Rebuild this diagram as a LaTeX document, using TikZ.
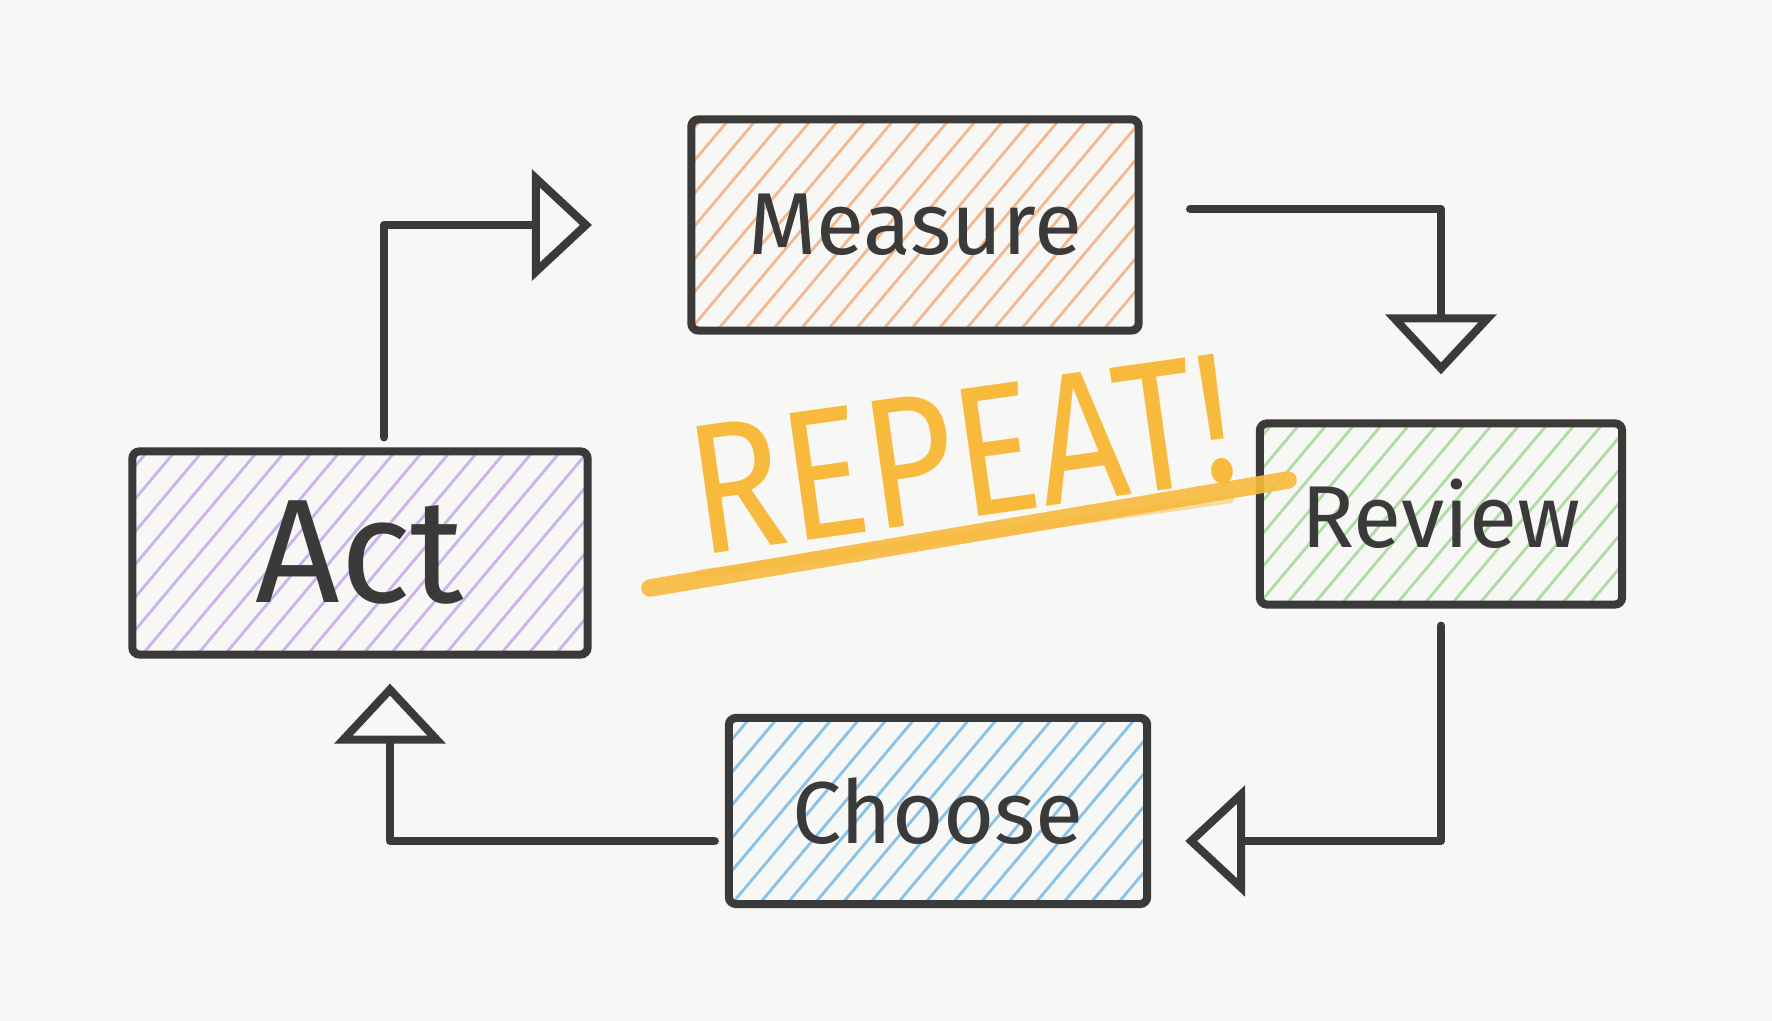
\documentclass[tikz,border=0pt]{standalone}
\usepackage{fontspec}
\setmainfont{Fira Sans}
\usetikzlibrary{arrows.meta,patterns.meta,calc}

\definecolor{paper}{HTML}{F7F7F5}
\definecolor{pencil}{HTML}{3A3A3A}
\definecolor{measurehatch}{HTML}{F5B88E}
\definecolor{acthatch}{HTML}{CDB2EC}
\definecolor{reviewhatch}{HTML}{AEDCA2}
\definecolor{choosehatch}{HTML}{86C2EA}
\definecolor{repeatcol}{HTML}{F8BA3C}

\tikzset{
  stage/.style={draw=pencil, line width=2.3pt, rounded corners=2pt,
    pattern={Lines[angle=50,distance=6pt,line width=0.8pt]}, pattern color=#1,
    text=pencil, font=\fontsize{25}{30}\selectfont},
  flow/.style={draw=pencil, line width=2.3pt, line cap=round, line join=round,
    -{Triangle[open,length=6mm,width=11mm]}}
}

\begin{document}
\begin{tikzpicture}[x=0.01cm,y=0.01cm]
      % Papel
      \fill[paper] (0,0) rectangle (1772,1021);
      \useasboundingbox (0,0) rectangle (1772,1021);

      % Caixas
      \node[stage=measurehatch, minimum width=4.47cm, minimum height=2.11cm] (measure) at (915,796) {Measure};
      \node[stage=reviewhatch, minimum width=3.62cm, minimum height=1.81cm] (review) at (1441,507) {Review};
      \node[stage=choosehatch, minimum width=4.18cm, minimum height=1.86cm] (choose) at (938,210) {Choose};
      \node[stage=acthatch, minimum width=4.55cm, minimum height=2.03cm, font=\fontsize{42}{48}\selectfont] (act) at (360,468) {Act};

      % Setas
      \draw[flow, shorten <=0.1cm, shorten >=0.98cm] ($(act.north)+(24,0)$) |- (measure.west);
      \draw[flow, shorten <=0.5cm, shorten >=0.45cm] ($(measure.east)+(0,16)$) -| (review.north);
      \draw[flow, shorten <=0.17cm, shorten >=0.34cm] (review.south) |- ($(choose.east)+(0,-30)$);
      \draw[flow, shorten <=0.1cm, shorten >=0.25cm] ($(choose.west)+(0,-30)$) -| ($(act.south)+(30,0)$);

      % Texto central
      \node[text=repeatcol, rotate=8, font=\fontsize{44}{50}\selectfont] (repeat) at (962,566) {\scalebox{1}[1.2]{REPEAT!}};
      \draw[repeatcol, line width=5pt, line cap=round, opacity=0.9] (650,433) -- (1288,541);
      \draw[repeatcol, line width=2.5pt, line cap=round, opacity=0.45] (700,447) -- (1230,522);
    \end{tikzpicture}
\end{document}
